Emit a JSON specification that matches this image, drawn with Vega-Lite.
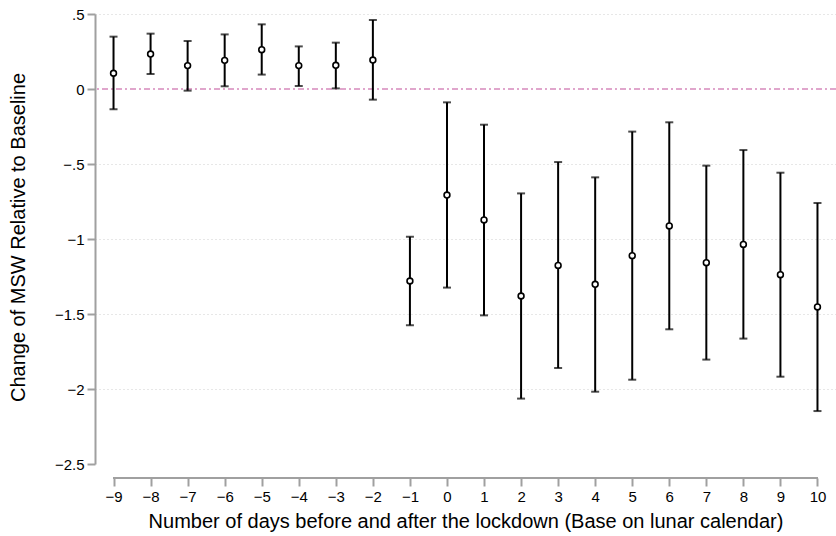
{
  "$schema": "https://vega.github.io/schema/vega-lite/v6.json",
  "width": 741,
  "height": 450,
  "autosize": {"type": "none"},
  "padding": {"left": 95, "top": 14, "right": 0, "bottom": 72},
  "background": "white",
  "config": {
    "view": {"stroke": null},
    "font": "Liberation Sans",
    "axis": {
      "labelFont": "Liberation Sans", "titleFont": "Liberation Sans", "titleFontWeight": "normal",
      "labelFontSize": 15, "titleFontSize": 20, "labelColor": "#000", "titleColor": "#000",
      "tickColor": "#a0a0a0", "tickWidth": 2, "tickSize": 8, "labelPadding": 3
    }
  },
  "data": {
    "values": [
      {"day": -9, "est": 0.105, "lo": -0.135, "hi": 0.349},
      {"day": -8, "est": 0.233, "lo": 0.1, "hi": 0.369},
      {"day": -7, "est": 0.156, "lo": -0.011, "hi": 0.32},
      {"day": -6, "est": 0.191, "lo": 0.018, "hi": 0.364},
      {"day": -5, "est": 0.262, "lo": 0.096, "hi": 0.431},
      {"day": -4, "est": 0.156, "lo": 0.02, "hi": 0.284},
      {"day": -3, "est": 0.158, "lo": 0.004, "hi": 0.309},
      {"day": -2, "est": 0.193, "lo": -0.071, "hi": 0.46},
      {"day": -1, "est": -1.28, "lo": -1.575, "hi": -0.985},
      {"day": 0, "est": -0.707, "lo": -1.324, "hi": -0.089},
      {"day": 1, "est": -0.873, "lo": -1.509, "hi": -0.238},
      {"day": 2, "est": -1.38, "lo": -2.064, "hi": -0.696},
      {"day": 3, "est": -1.176, "lo": -1.86, "hi": -0.487},
      {"day": 4, "est": -1.302, "lo": -2.018, "hi": -0.589},
      {"day": 5, "est": -1.111, "lo": -1.938, "hi": -0.284},
      {"day": 6, "est": -0.913, "lo": -1.602, "hi": -0.222},
      {"day": 7, "est": -1.158, "lo": -1.804, "hi": -0.511},
      {"day": 8, "est": -1.036, "lo": -1.664, "hi": -0.407},
      {"day": 9, "est": -1.238, "lo": -1.918, "hi": -0.558},
      {"day": 10, "est": -1.453, "lo": -2.147, "hi": -0.76}
    ]
  },
  "encoding": {
    "x": {
      "field": "day", "type": "quantitative",
      "scale": {"domain": [-9.5, 10.5], "nice": false, "zero": false},
      "axis": {
        "values": [-9,-8,-7,-6,-5,-4,-3,-2,-1,0,1,2,3,4,5,6,7,8,9,10],
        "title": "Number of days before and after the lockdown (Base on lunar calendar)",
        "offset": 14,
        "domain": false,
        "grid": false,
        "titlePadding": 7
      }
    }
  },
  "layer": [
    {
      "mark": {"type": "rule", "color": "#a0a0a0", "strokeWidth": 2},
      "encoding": {
        "x": {"datum": -9, "type": "quantitative"},
        "x2": {"datum": 10},
        "y": {
          "datum": -2.5933, "type": "quantitative",
          "scale": {"domain": [-2.5, 0.5], "nice": false, "zero": false},
          "axis": {
            "values": [0.5, 0, -0.5, -1, -1.5, -2, -2.5],
            "labelExpr": "replace(format(datum.value, '~g'), '0.', '.')",
            "title": "Change of MSW Relative to Baseline",
            "grid": true, "gridColor": "#cfcfcf", "gridDash": [1, 3], "gridWidth": 1,
            "gridOpacity": {"condition": {"test": "datum.value <= -2.5 || datum.value == 0", "value": 0}, "value": 1},
            "domainColor": "#a0a0a0", "domainWidth": 2,
            "titleX": -77, "titleY": 223, "titleBaseline": "middle", "titleAlign": "center", "titleAngle": -90
          }
        }
      }
    },
    {
      "mark": {"type": "rule", "color": "#dfa6cb", "strokeWidth": 1.5, "strokeDash": [6, 3, 2, 3]},
      "encoding": {"y": {"datum": 0, "type": "quantitative"}, "x": null}
    },
    {
      "mark": {"type": "rule", "color": "#000", "strokeWidth": 2},
      "encoding": {
        "y": {"field": "lo", "type": "quantitative"},
        "y2": {"field": "hi"}
      }
    },
    {
      "mark": {"type": "tick", "color": "#000", "orient": "horizontal", "size": 8, "thickness": 2},
      "encoding": {"y": {"field": "lo", "type": "quantitative"}}
    },
    {
      "mark": {"type": "tick", "color": "#000", "orient": "horizontal", "size": 8, "thickness": 2},
      "encoding": {"y": {"field": "hi", "type": "quantitative"}}
    },
    {
      "mark": {"type": "point", "shape": "circle", "filled": false, "color": "#000", "strokeWidth": 1.6, "size": 34, "fill": "white", "fillOpacity": 1},
      "encoding": {"y": {"field": "est", "type": "quantitative"}}
    }
  ]
}
